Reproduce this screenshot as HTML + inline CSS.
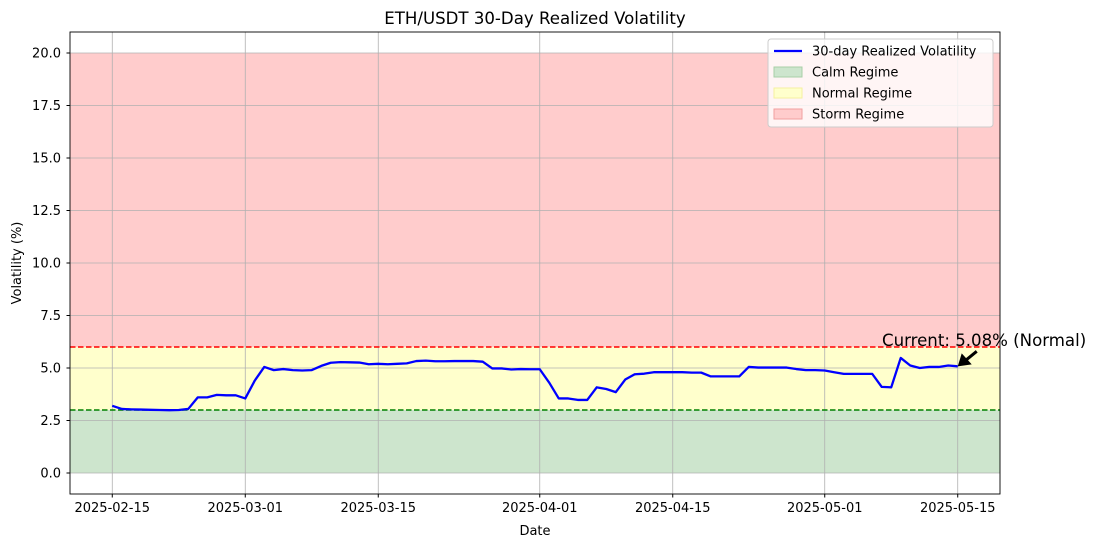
<!DOCTYPE html>
<html><head><meta charset="utf-8"><style>
body{margin:0;background:#fff}
svg text{font-family:"DejaVu Sans","Liberation Sans",sans-serif;fill:#000}
</style></head><body>
<svg width="1095" height="547" xmlns="http://www.w3.org/2000/svg">
<g id="plot"></g>
</svg>
<script>
const startDate = "2025-02-15";
const vol = [3.2,3.05,3.03,3.02,3.01,3.0,2.99,3.0,3.05,3.6,3.6,3.72,3.7,3.7,3.55,4.4,5.05,4.9,4.95,4.9,4.88,4.9,5.1,5.25,5.28,5.27,5.26,5.18,5.2,5.18,5.2,5.22,5.33,5.35,5.32,5.32,5.33,5.33,5.33,5.3,4.98,4.98,4.93,4.95,4.94,4.94,4.3,3.55,3.55,3.48,3.48,4.08,4.0,3.85,4.45,4.7,4.73,4.8,4.8,4.8,4.8,4.78,4.78,4.6,4.6,4.6,4.6,5.05,5.02,5.02,5.02,5.02,4.95,4.9,4.9,4.88,4.8,4.72,4.72,4.72,4.72,4.1,4.08,5.48,5.12,5.0,5.05,5.05,5.12,5.08];
const yTicks = [0,2.5,5,7.5,10,12.5,15,17.5,20];
const xTickDays = [0,14,28,45,59,75,89];
const xTickLabels = ["2025-02-15","2025-03-01","2025-03-15","2025-04-01","2025-04-15","2025-05-01","2025-05-15"];
const calm = 3, storm = 6, stormTop = 20;
const L=70,R=1000,T=32,B=494;
const dMin=-4.45,dMax=93.45,yMin=-1,yMax=21;
const X=d=>L+(d-dMin)/(dMax-dMin)*(R-L);
const Y=v=>B-(v-yMin)/(yMax-yMin)*(B-T);
const g=document.getElementById('plot');
const NS="http://www.w3.org/2000/svg";
function mk(t,a,p){const e=document.createElementNS(NS,t);for(const k in a)e.setAttribute(k,a[k]);(p||g).appendChild(e);return e;}
function txt(s,a){const e=mk('text',a);e.textContent=s;return e;}
let r=mk('rect',{x:L,y:Y(calm),width:R-L,height:Y(0)-Y(calm),fill:'#cde5cd'});


r=mk('rect',{x:L,y:Y(storm),width:R-L,height:Y(calm)-Y(storm),fill:'#ffffcc'});


r=mk('rect',{x:L,y:Y(stormTop),width:R-L,height:Y(storm)-Y(stormTop),fill:'#ffcccc'});


yTicks.forEach(v=>{
 const l=mk('line',{x1:L,x2:R,y1:Y(v),y2:Y(v),stroke:'#b0b0b0','stroke-width':0.8});
 
 
 mk('line',{x1:L-3.5,x2:L,y1:Y(v),y2:Y(v),stroke:'#000'});
 const t=txt(v.toFixed(1),{x:L-9,y:Y(v)+4.5,'text-anchor':'end','font-size':13});
 
 
});
xTickDays.forEach((d,i)=>{
 const l=mk('line',{x1:X(d),x2:X(d),y1:T,y2:B,stroke:'#b0b0b0','stroke-width':0.8});
 
 
 mk('line',{x1:X(d),x2:X(d),y1:B,y2:B+3.5,stroke:'#000'});
 const t=txt(xTickLabels[i],{x:X(d),y:B+18,'text-anchor':'middle','font-size':13});
 
 
});
let th=mk('line',{x1:L,x2:R,y1:Y(storm),y2:Y(storm),stroke:'#ff0000','stroke-width':1.5,'stroke-dasharray':'5.5,2.5'});


th=mk('line',{x1:L,x2:R,y1:Y(calm),y2:Y(calm),stroke:'#008000','stroke-width':1.5,'stroke-dasharray':'5.5,2.5'});


const pl=mk('polyline',{points:vol.map((v,i)=>X(i)+','+Y(v)).join(' '),fill:'none',stroke:'#0000ff','stroke-width':2.3,'stroke-linejoin':'round'});


const fr=mk('rect',{x:L,y:T,width:R-L,height:B-T,fill:'none',stroke:'#000','stroke-width':0.9});


const last=vol.length-1;
const ax=X(last),ay=Y(vol[last]);
const ar=mk('g',{});


mk('line',{x1:ax+19,y1:ay-15,x2:ax+8,y2:ay-6,stroke:'#000','stroke-width':3},ar);
mk('polygon',{points:`${ax},${ay} ${ax+4},${ay-13} ${ax+14},${ay-2}`,fill:'#000'},ar);
const an=txt('Current: '+vol[last].toFixed(2)+'% (Normal)',{x:882,y:346,'font-size':16.6});


let t=txt('ETH/USDT 30-Day Realized Volatility',{x:(L+R)/2,y:24,'text-anchor':'middle','font-size':16.6});


t=txt('Date',{x:(L+R)/2,y:535,'text-anchor':'middle','font-size':13});


t=txt('Volatility (%)',{x:21,y:(T+B)/2,'text-anchor':'middle','font-size':13,transform:`rotate(-90 21 ${(T+B)/2})`});


const lg=mk('g',{});


mk('rect',{x:768,y:39,width:225,height:88,rx:3,fill:'rgba(255,255,255,0.8)',stroke:'#ccc'},lg);
const items=[['line','#0000ff','30-day Realized Volatility'],['box','#cde5cd','Calm Regime','#a8cfa8'],['box','#ffffcc','Normal Regime','#f5f0a0'],['box','#ffcccc','Storm Regime','#f0a0a0']];
items.forEach((it,i)=>{
 const y=51+i*21;
 const e=mk('g',{},lg);
 
 
 if(it[0]==='line') mk('line',{x1:774,x2:802,y1:y,y2:y,stroke:it[1],'stroke-width':2.2},e);
 else mk('rect',{x:774,y:y-5,width:28,height:10,fill:it[1],stroke:it[3]},e);
 const tt=document.createElementNS(NS,'text');
 tt.setAttribute('x',812);tt.setAttribute('y',y+4.5);tt.setAttribute('font-size',13);
 tt.textContent=it[2];e.appendChild(tt);
});
</script>
</body></html>
